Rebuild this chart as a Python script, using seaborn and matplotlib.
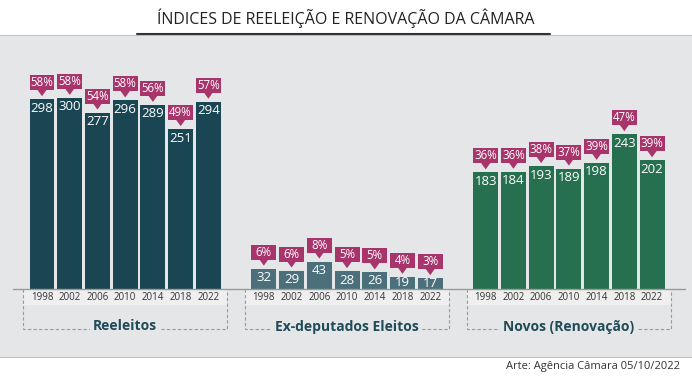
import numpy as np
import pandas as pd
import matplotlib
matplotlib.use("Agg")
import matplotlib.pyplot as plt
from matplotlib.patches import Rectangle, Polygon
from matplotlib.lines import Line2D
import seaborn as sns

# ---------------- data ----------------
years = ["1998", "2002", "2006", "2010", "2014", "2018", "2022"]
groups = ["Reeleitos", "Ex-deputados Eleitos", "Novos (Renovação)"]
reeleitos = [298, 300, 277, 296, 289, 251, 294]
reeleitos_pct = ["58%", "58%", "54%", "58%", "56%", "49%", "57%"]
ex_deputados = [32, 29, 43, 28, 26, 19, 17]
ex_deputados_pct = ["6%", "6%", "8%", "5%", "5%", "4%", "3%"]
novos = [183, 184, 193, 189, 198, 243, 202]
novos_pct = ["36%", "36%", "38%", "37%", "39%", "47%", "39%"]

title = "ÍNDICES DE REELEIÇÃO E RENOVAÇÃO DA CÂMARA"
footer = "Arte: Agência Câmara 05/10/2022"

colors = {"Reeleitos": "#1a4654", "Ex-deputados Eleitos": "#4b6f7b",
          "Novos (Renovação)": "#27704f"}
magenta = "#a8346c"
panel = "#e5e6e7"

values = [reeleitos, ex_deputados, novos]
pcts = [reeleitos_pct, ex_deputados_pct, novos_pct]

rows = []
for g, name in enumerate(groups):
    for i, y in enumerate(years):
        rows.append({"pos": g * 8 + i, "value": values[g][i], "group": name,
                     "year": y, "pct": pcts[g][i]})
df = pd.DataFrame(rows)

# ---------------- figure ----------------
sns.set_theme(style="white")
plt.rcParams["font.family"] = ["Open Sans", "DejaVu Sans"]

W, H = 692, 382
fig = plt.figure(figsize=(W / 100, H / 100), dpi=100)
fig.patch.set_facecolor("white")
ax = fig.add_axes([0, 25 / H, 1, (357 - 35) / H])
ax.set_facecolor(panel)

XPX = 27.73          # pixels per x unit
YPX = 0.637          # pixels per value unit
PX = 1 / YPX         # value units per pixel
ax.set_xlim(-42 / XPX, (W - 42) / XPX)
ax.set_ylim(-(357 - 289) * PX, (289 - 35) * PX)

sns.barplot(data=df, x="pos", y="value", hue="group", palette=colors,
            native_scale=True, dodge=False, width=0.9, legend=False,
            saturation=1, linewidth=0, ax=ax, zorder=3)

# tick bands, dashed boxes, group labels
for g, name in enumerate(groups):
    x0, x1 = g * 8 - 0.68, g * 8 + 6.68
    ax.add_patch(Rectangle((x0, -16 * PX), x1 - x0, 16 * PX,
                           facecolor="#efefef", edgecolor="none", zorder=1))
    ax.plot([x0, x0, x1, x1], [0, -40 * PX, -40 * PX, 0], color="#9a9a9a",
            lw=0.8, ls=(0, (3, 2)), zorder=2)
    ax.text((x0 + x1) / 2, -37.5 * PX, name, ha="center", va="center",
            fontsize=10, fontweight="bold", color="#1f4a57", zorder=4,
            bbox=dict(boxstyle="square,pad=0.25", fc=panel, ec="none"))

ax.plot([-29 / XPX, (685 - 42) / XPX], [0, 0], color="#9a9a9a", lw=1, zorder=4)

for _, r in df.iterrows():
    p, v = r["pos"], r["value"]
    ax.text(p, -8.5 * PX, r["year"], ha="center", va="center", fontsize=7,
            color="#333333", zorder=4)
    ax.text(p, max(v - 9 * PX, v / 2), str(v), ha="center", va="center",
            fontsize=9.5, color="white", zorder=5)
    ax.add_patch(Rectangle((p - 0.45, v + 9 * PX), 0.9, 15 * PX,
                           facecolor=magenta, edgecolor="none", zorder=5))
    ax.add_patch(Polygon([(p - 0.17, v + 9.5 * PX), (p + 0.17, v + 9.5 * PX),
                          (p, v + 3 * PX)], closed=True, facecolor=magenta,
                         edgecolor="none", zorder=5))
    ax.text(p, v + 16.5 * PX, r["pct"], ha="center", va="center",
            fontsize=8.3, color="white", zorder=6)

ax.set_xticks([])
ax.set_yticks([])
ax.set_xlabel("")
ax.set_ylabel("")
for s in ["left", "right"]:
    ax.spines[s].set_visible(False)
for s in ["top", "bottom"]:
    ax.spines[s].set_color("#c4c4c4")
    ax.spines[s].set_linewidth(0.8)

fig.text(0.5, 1 - 18 / H, title, ha="center", va="center", fontsize=11.5,
         color="#222222")
fig.add_artist(Line2D([137 / W, 550 / W], [1 - 34 / H, 1 - 34 / H],
                      color="#333333", lw=1.5))
fig.text(680 / W, 1 - 367 / H, footer, ha="right", va="center", fontsize=8,
         color="#333333")

fig.savefig("out.png", dpi=100, facecolor="white")
